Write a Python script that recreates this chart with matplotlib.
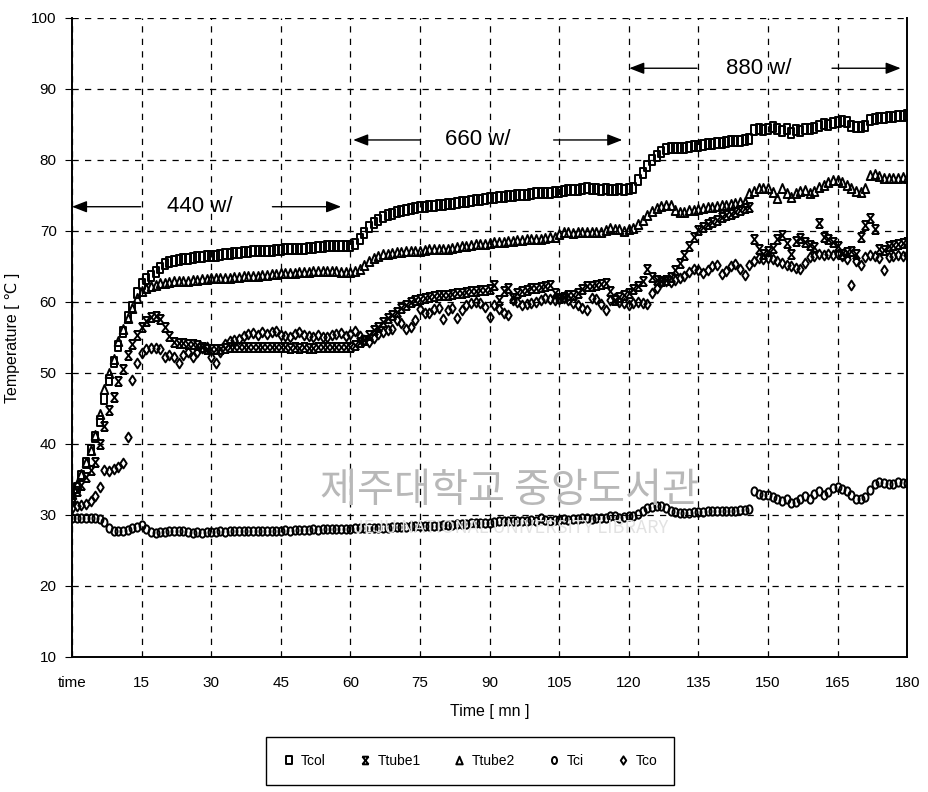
import numpy as np
import matplotlib
matplotlib.use("Agg")
import matplotlib.pyplot as plt
from matplotlib import font_manager
from matplotlib.path import Path
from matplotlib.transforms import Affine2D

# Temperature log, one reading per minute (0..180 min)
minutes = list(range(181))

tcol = [32.2, 33.8, 35.5, 37.3, 39.2, 41.0, 43.2, 46.3, 49.0, 51.5, 53.8, 55.8, 57.9, 59.3, 61.2,
        62.5, 63.2, 63.7, 64.2, 64.8, 65.3, 65.6, 65.8, 65.9, 66.0, 66.1, 66.2, 66.3, 66.3, 66.4,
        66.5, 66.5, 66.6, 66.7, 66.8, 66.9, 66.9, 67.0, 67.0, 67.1, 67.1, 67.2, 67.2, 67.2, 67.3,
        67.3, 67.4, 67.4, 67.5, 67.5, 67.5, 67.6, 67.6, 67.7, 67.7, 67.8, 67.8, 67.8, 67.9, 67.9,
        67.9, 68.2, 68.9, 69.7, 70.5, 71.1, 71.5, 71.9, 72.2, 72.4, 72.6, 72.8, 72.9, 73.1, 73.2,
        73.3, 73.4, 73.5, 73.5, 73.6, 73.7, 73.8, 73.8, 73.9, 74.0, 74.1, 74.2, 74.3, 74.4, 74.5,
        74.6, 74.6, 74.7, 74.8, 74.9, 74.9, 75.0, 75.1, 75.1, 75.2, 75.3, 75.3, 75.4, 75.4, 75.5,
        75.5, 75.6, 75.7, 75.7, 75.8, 75.9, 76.0, 75.9, 75.9, 75.8, 75.9, 75.8, 75.8, 75.9, 75.8,
        75.9, 76.0, 77.2, 78.2, 79.2, 80.0, 80.6, 81.1, 81.5, 81.6, 81.6, 81.7, 81.7, 81.8, 81.9,
        82.0, 82.1, 82.2, 82.3, 82.4, 82.4, 82.5, 82.6, 82.6, 82.7, 82.8, 83.0, 84.2, 84.3, 84.2,
        84.4, 84.6, 84.3, 84.1, 84.3, 83.8, 84.2, 84.1, 84.4, 84.3, 84.5, 84.7, 85.0, 84.9, 85.2,
        85.4, 85.5, 85.3, 84.8, 84.6, 84.6, 84.8, 85.6, 85.8, 85.9, 85.9, 86.0, 86.1, 86.2, 86.2,
        86.3]

ttube1 = [32.5, 33.3, 34.2, 35.3, 36.3, 37.5, 40.0, 42.5, 44.8, 46.6, 48.8, 50.5, 52.5, 54.0, 55.3,
          56.5, 57.3, 57.9, 58.0, 57.6, 56.5, 55.2, 54.4, 54.2, 54.2, 54.1, 54.0, 53.9, 53.6, 53.4,
          53.3, 53.3, 53.4, 53.5, 53.6, 53.6, 53.7, 53.6, 53.7, 53.6, 53.7, 53.7, 53.6, 53.7, 53.7,
          53.7, 53.6, 53.5, 53.6, 53.5, 53.6, 53.5, 53.5, 53.6, 53.6, 53.7, 53.6, 53.7, 53.7, 53.7,
          53.7, 53.9, 54.3, 54.7, 55.3, 56.0, 56.5, 57.1, 57.7, 58.2, 58.6, 59.1, 59.5, 60.0, 60.2,
          60.4, 60.6, 60.7, 60.8, 60.9, 61.0, 61.0, 61.1, 61.2, 61.3, 61.4, 61.5, 61.6, 61.7, 61.7,
          61.8, 62.4, 60.3, 61.5, 61.9, 60.6, 61.2, 61.6, 61.7, 61.9, 62.0, 62.1, 62.3, 62.4, 61.2,
          60.5, 60.7, 60.9, 61.0, 61.3, 61.8, 62.2, 62.3, 62.4, 62.5, 62.6, 61.5, 60.3, 60.7, 61.0,
          61.2, 61.8, 62.2, 63.0, 64.7, 63.5, 63.1, 63.0, 63.1, 63.5, 64.5, 65.5, 66.6, 67.8, 69.2,
          70.1, 70.6, 71.0, 71.3, 71.6, 71.9, 72.2, 72.4, 72.7, 72.9, 73.2, 73.4, 68.8, 67.5, 66.8,
          67.2, 67.6, 68.8, 69.4, 68.3, 66.8, 68.6, 69.0, 68.5, 68.0, 67.7, 71.1, 69.2, 68.8, 68.5,
          67.8, 66.8, 67.0, 67.2, 66.8, 69.2, 70.8, 71.8, 70.2, 67.5, 67.3, 67.8, 68.0, 68.2, 68.3,
          68.4]

ttube2 = [33.0, 34.3, 35.8, 37.5, 39.2, 41.3, 44.2, 47.8, 50.0, 52.0, 54.5, 56.2, 57.7, 59.2, 60.5,
          61.5, 62.0, 62.2, 62.4, 62.6, 62.7, 62.8, 62.9, 62.9, 63.0, 63.0, 63.1, 63.1, 63.2, 63.2,
          63.3, 63.3, 63.3, 63.4, 63.4, 63.5, 63.5, 63.6, 63.6, 63.7, 63.7, 63.8, 63.8, 63.9, 63.9,
          64.0, 64.0, 64.1, 64.1, 64.2, 64.2, 64.2, 64.3, 64.3, 64.3, 64.3, 64.3, 64.3, 64.2, 64.2,
          64.2, 64.3, 64.7, 65.2, 65.8, 66.2, 66.5, 66.7, 66.8, 66.9, 67.0, 67.0, 67.1, 67.1, 67.1,
          67.2, 67.3, 67.4, 67.4, 67.5, 67.5, 67.5, 67.6, 67.7, 67.8, 67.9, 68.0, 68.1, 68.1, 68.2,
          68.3, 68.4, 68.5, 68.5, 68.6, 68.6, 68.7, 68.7, 68.8, 68.8, 68.9, 68.9, 69.0, 69.1, 69.2,
          69.5, 69.8, 69.9, 69.7, 69.8, 69.8, 69.9, 69.9, 69.8, 69.8, 70.1, 70.4, 70.2, 70.3, 70.0,
          70.3, 70.4, 70.9, 71.6, 72.3, 72.8, 73.2, 73.5, 73.7, 73.6, 73.0, 72.7, 72.7, 72.9, 73.0,
          73.1, 73.2, 73.3, 73.4, 73.5, 73.6, 73.7, 73.8, 73.9, 74.0, 74.1, 75.3, 75.6, 76.0, 76.1,
          76.0, 75.5, 74.6, 76.0, 75.4, 74.8, 75.3, 75.6, 75.8, 75.3, 75.6, 76.2, 76.5, 76.9, 77.2,
          77.1, 76.9, 76.5, 76.0, 75.6, 75.5, 76.0, 77.8, 78.0, 77.7, 77.5, 77.5, 77.4, 77.5, 77.6,
          77.5]

tci = [29.5, 29.5, 29.5, 29.5, 29.5, 29.5, 29.4, 29.0, 28.2, 27.8, 27.7, 27.8, 27.9, 28.1, 28.3,
       28.6, 28.0, 27.6, 27.5, 27.6, 27.6, 27.7, 27.8, 27.7, 27.7, 27.6, 27.5, 27.6, 27.5, 27.6,
       27.6, 27.6, 27.7, 27.6, 27.7, 27.7, 27.7, 27.7, 27.8, 27.7, 27.8, 27.8, 27.8, 27.8, 27.8,
       27.8, 27.9, 27.8, 27.9, 27.9, 27.9, 27.9, 28.0, 27.9, 28.0, 28.0, 28.0, 28.0, 28.0, 28.0,
       28.0, 28.1, 28.1, 28.1, 28.1, 28.2, 28.2, 28.2, 28.2, 28.3, 28.3, 28.3, 28.3, 28.4, 28.4,
       28.4, 28.4, 28.5, 28.5, 28.5, 28.6, 28.6, 28.6, 28.7, 28.7, 28.7, 28.8, 28.8, 28.8, 28.9,
       28.9, 29.0, 29.2, 29.1, 29.1, 29.2, 29.2, 29.2, 29.2, 29.3, 29.2, 29.5, 29.3, 29.2, 29.3,
       29.3, 29.4, 29.3, 29.4, 29.4, 29.6, 29.6, 29.4, 29.5, 29.5, 29.6, 29.9, 29.8, 29.6, 29.7,
       29.8, 29.9, 30.2, 30.5, 31.0, 31.1, 31.2, 31.2, 31.0, 30.6, 30.4, 30.3, 30.3, 30.3, 30.4,
       30.4, 30.4, 30.5, 30.5, 30.5, 30.5, 30.6, 30.6, 30.6, 30.7, 30.7, 30.8, 33.4, 33.0, 32.8,
       32.8, 32.5, 32.3, 32.0, 32.2, 31.7, 31.8, 32.3, 32.7, 32.3, 33.0, 33.3, 32.8, 33.2, 33.8,
       33.9, 33.6, 33.3, 32.8, 32.3, 32.2, 32.5, 33.5, 34.3, 34.6, 34.5, 34.3, 34.4, 34.6, 34.5,
       34.5]

tco = [31.0, 31.2, 31.4, 31.6, 32.0, 32.6, 34.0, 36.3, 36.2, 36.5, 36.8, 37.3, 41.0, 49.0, 51.4,
       52.8, 53.3, 53.5, 53.5, 53.3, 52.3, 52.5, 52.3, 51.4, 52.5, 53.0, 52.3, 53.0, 53.5, 53.7,
       52.2, 51.4, 53.0, 54.0, 54.5, 54.6, 54.8, 55.2, 55.5, 55.6, 55.4, 55.7, 55.5, 55.8, 55.9,
       55.4, 55.2, 55.0, 55.5, 55.7, 55.3, 55.2, 55.0, 55.4, 55.1, 55.0, 55.3, 55.5, 55.6, 55.2,
       55.5, 55.9, 55.2, 54.6, 54.4, 54.9, 55.5, 55.8, 56.0, 56.2, 57.4, 57.0, 56.2, 56.5, 57.5,
       59.0, 58.5, 58.4, 59.0, 59.2, 57.6, 58.8, 59.1, 57.7, 58.9, 59.5, 59.8, 60.0, 59.8, 59.3,
       57.9, 59.6, 59.0, 58.4, 58.2, 60.3, 60.0, 59.5, 59.7, 59.8, 60.0, 60.3, 60.5, 60.4, 60.2,
       60.4, 60.5, 60.2, 59.9, 59.6, 59.2, 58.9, 60.6, 60.4, 59.7, 58.9, 60.3, 60.5, 60.0, 59.8,
       59.6, 59.8, 60.0, 59.9, 59.7, 61.3, 62.0, 62.8, 63.0, 62.8, 63.1, 63.3, 63.7, 64.2, 64.6,
       64.5, 64.0, 64.5, 65.0, 65.2, 63.9, 64.3, 65.0, 65.4, 64.6, 63.8, 65.2, 65.7, 66.2, 66.1,
       66.2, 66.1, 65.8, 65.5, 65.2, 65.0, 64.8, 64.7, 65.5, 66.3, 66.5, 66.8, 66.6, 66.7, 66.6,
       66.8, 66.5, 66.0, 62.4, 65.8, 65.2, 66.3, 66.6, 66.5, 66.2, 64.5, 66.3, 66.4, 66.6, 66.5,
       66.6]

series_names = ["Tcol", "Ttube1", "Ttube2", "Tci", "Tco"]
xtick_vals = list(range(0, 181, 15))
xtick_labels = ["time"] + [str(v) for v in xtick_vals[1:]]
ytick_vals = list(range(10, 101, 10))

# power steps: label, text x, left arrow (tail, head), right arrow (tail, head), y
power_labels = ["440 w/", "660 w/", "880 w/"]
power_text_x = [27.5, 87.5, 148.1]
power_left = [(14.8, 0.0), (75.1, 60.6), (134.7, 120.1)]
power_right = [(43.2, 58.0), (103.8, 118.6), (163.8, 178.6)]
power_y = [73.4, 82.8, 92.9]

# fonts
avail = {f.name for f in font_manager.fontManager.ttflist}
main_font = "Liberation Sans Narrow" if "Liberation Sans Narrow" in avail else "Liberation Sans"
plt.rcParams["font.family"] = [main_font, "DejaVu Sans"]

# marker shapes (the scanned markers are a bit taller than wide)
rect = Path([(-0.36, -0.5), (0.36, -0.5), (0.36, 0.5), (-0.36, 0.5), (-0.36, -0.5)],
            [Path.MOVETO, Path.LINETO, Path.LINETO, Path.LINETO, Path.CLOSEPOLY])
hourglass = Path([(-0.4, 0.5), (0.4, 0.5), (-0.4, 0.5), (0.4, -0.5),
                  (0.4, 0.5), (-0.4, -0.5), (-0.4, -0.5), (0.4, -0.5)],
                 [Path.MOVETO, Path.LINETO, Path.MOVETO, Path.LINETO,
                  Path.MOVETO, Path.LINETO, Path.MOVETO, Path.LINETO])
tri = Path([(-0.42, -0.5), (0.42, -0.5), (0.0, 0.5), (-0.42, -0.5)],
           [Path.MOVETO, Path.LINETO, Path.LINETO, Path.CLOSEPOLY])
ellipse = Path.unit_circle().transformed(Affine2D().scale(0.72, 1.0))
diamond = Path([(0.0, -0.5), (0.33, 0.0), (0.0, 0.5), (-0.33, 0.0), (0.0, -0.5)],
               [Path.MOVETO, Path.LINETO, Path.LINETO, Path.LINETO, Path.CLOSEPOLY])

styles = [(rect, 6.5), (hourglass, 6.5), (tri, 6.5), (ellipse, 6.0), (diamond, 7.0)]
data = [tcol, ttube1, ttube2, tci, tco]

fig = plt.figure(figsize=(9.29, 7.92), dpi=100)
ax = fig.add_axes([0.0775, 0.1705, 0.899, 0.807])

# faint library watermark from the scanned page
fig.text(0.548, 0.381, "제주대학교 중앙도서관", family=["Noto Sans CJK KR", "DejaVu Sans"],
         fontsize=29, color="#b8b8b8", ha="center", va="center", zorder=0)
fig.text(0.55, 0.333, "JEJU NATIONAL UNIVERSITY LIBRARY", family=["Noto Sans CJK KR", "DejaVu Sans"],
         fontsize=13, color="#e2e2e2", ha="center", va="center", zorder=0)
ax.set_facecolor("none")

for name, vals, (mk, ms) in zip(series_names, data, styles):
    ax.plot(minutes, vals, linestyle="none", marker=mk, markersize=ms,
            markerfacecolor="none", markeredgecolor="black", markeredgewidth=1.4,
            label=name)

ax.set_xlim(0, 180)
ax.set_ylim(10, 100)
ax.set_xticks(xtick_vals)
ax.set_xticklabels(xtick_labels)
ax.set_yticks(ytick_vals)
ax.grid(True, linestyle=(0, (5, 5)), color="black", linewidth=0.9)
ax.tick_params(axis="x", direction="in", length=0, labelsize=11, pad=14)
ax.tick_params(axis="y", direction="out", length=5, labelsize=11, pad=6)
ax.spines["top"].set_visible(False)
for s in ["left", "bottom", "right"]:
    ax.spines[s].set_linewidth(1.4)

ax.set_xlabel("Time [ mn ]", fontsize=11.5, labelpad=10)
ax.set_ylabel("Temperature [ \u2103 ]", fontsize=11.5, labelpad=8)

# power level annotations
for lab, tx, (l0, l1), (r0, r1), yy in zip(power_labels, power_text_x, power_left, power_right, power_y):
    ax.text(tx, yy, lab, fontsize=16, ha="center", va="center")
    for x0, x1 in [(l0, l1), (r0, r1)]:
        ax.annotate("", xy=(x1, yy), xytext=(x0, yy),
                    arrowprops=dict(arrowstyle="-|>,head_length=0.9,head_width=0.35",
                                    color="black", lw=1.0, shrinkA=0, shrinkB=0))

leg = fig.legend(loc="center", bbox_to_anchor=(0.506, 0.039), ncol=5, fontsize=10,
                 frameon=True, fancybox=False, edgecolor="black", framealpha=1,
                 handlelength=0.8, handletextpad=0.5, columnspacing=2.4, borderpad=1.2,
                 markerscale=0.85)
leg.get_frame().set_linewidth(1.0)

fig.savefig("out.png", dpi=100)
